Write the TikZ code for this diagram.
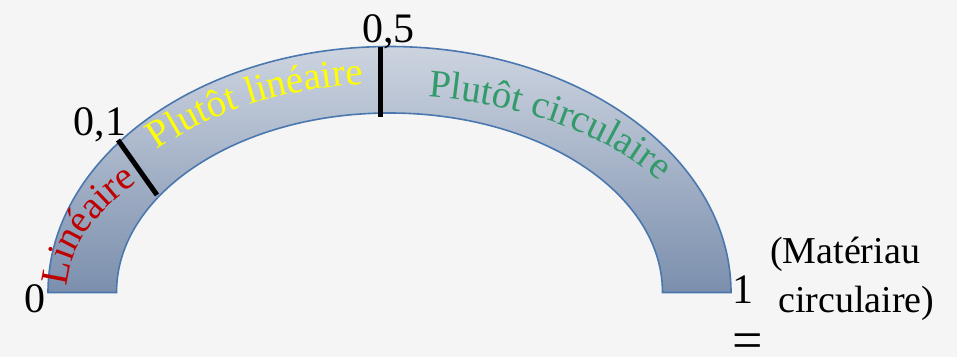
\documentclass[tikz,border=0pt]{standalone}
\usepackage{fontspec}
\setmainfont{Liberation Serif}
\usetikzlibrary{decorations.text}
\definecolor{bg}{HTML}{F5F5F5}
\definecolor{arcTop}{HTML}{CDD4E0}
\definecolor{arcBot}{HTML}{7B8FAD}
\definecolor{arcLine}{HTML}{4A78AE}
\definecolor{txtRed}{HTML}{C00000}
\definecolor{txtYel}{HTML}{FFFF00}
\definecolor{txtGrn}{HTML}{339A6A}
\tikzset{
  tickline/.style={line width=5pt, black},
  numlabel/.style={inner sep=0pt, anchor=base, font=\fontsize{42}{42}\selectfont},
  notelabel/.style={inner sep=0pt, anchor=base west, font=\fontsize{38}{38}\selectfont},
  arctext/.style={decorate, decoration={text along path, text color=#1}},
}
\begin{document}
\begin{tikzpicture}[x=1pt,y=1pt]
\useasboundingbox[fill=bg] (0,0) rectangle (957,357);
% block arc
\path[top color=arcTop, bottom color=arcBot, draw=arcLine, line width=1.6pt]
  (48,64.5) arc[start angle=180, end angle=0, x radius=341.5pt, y radius=246pt]
  -- (662.5,64.5)
  arc[start angle=0, end angle=180, x radius=273pt, y radius=179.5pt] -- cycle;
% ticks
\coordinate (t1a) at (118,217);
\coordinate (t1b) at (157,162);
\coordinate (t5a) at (380,310);
\coordinate (t5b) at (380,240);
\draw[tickline] (t1a) -- (t1b);
\draw[tickline] (t5a) -- (t5b);
% curved texts
\begin{scope}[shift={(389.5,64.5)}]
\path[decorate, decoration={text along path, text color=txtRed,
  text={|\fontsize{39}{39}\selectfont|Linéaire}}]
  (178:322.7pt and 175.9pt) arc[start angle=178, end angle=141.5, x radius=322.7pt, y radius=175.9pt];
\path[decorate, decoration={text along path, text color=txtYel,
  text={|\fontsize{39}{39}\selectfont|Plutôt linéaire}}]
  (137:318pt and 209pt) arc[start angle=137, end angle=90, x radius=318pt, y radius=209pt];
\path[decorate, decoration={text along path, text color=txtGrn,
  text={|\fontsize{39}{39}\selectfont|Plutôt circulaire}}]
  (83.2:327pt and 197pt) arc[start angle=83.2, end angle=30, x radius=327pt, y radius=197pt];
\end{scope}
% labels
\node[numlabel] (l0) at (35,45) {0};
\node[numlabel] (l01) at (100,222) {0,1};
\node[numlabel] (l05) at (388.5,314) {0,5};
\node[numlabel] (l1) at (742.5,54) {1};
\node[inner sep=0pt, font=\fontsize{54}{54}\selectfont] (leq) at (748,10.5) {=};
\node[notelabel] (m1) at (770,94) {(Matériau};
\node[notelabel] (m2) at (778,45) {circulaire)};
\end{tikzpicture}
\end{document}
